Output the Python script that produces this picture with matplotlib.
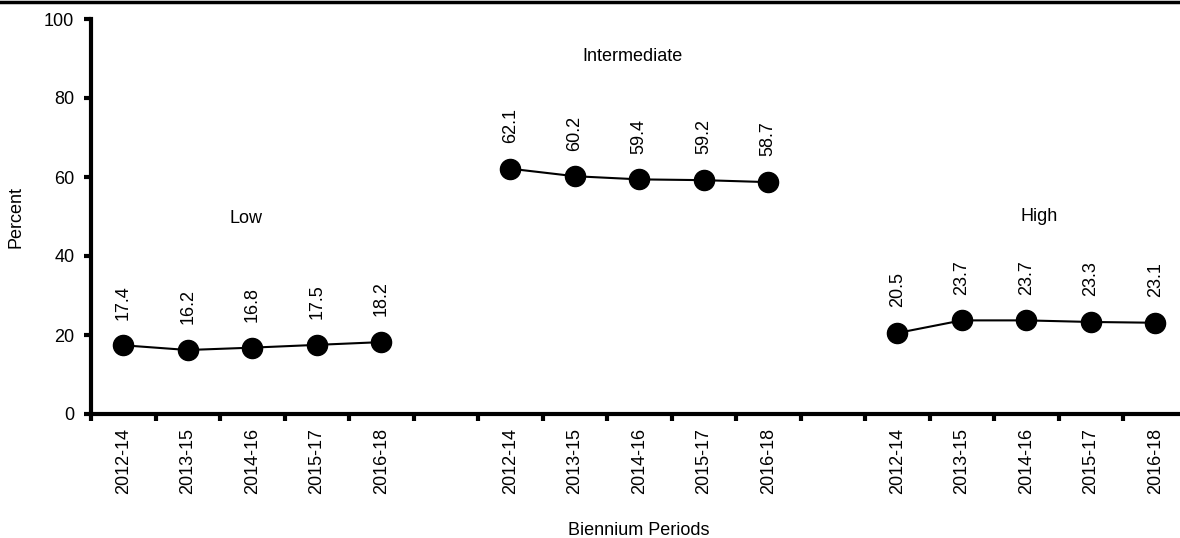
import matplotlib.pyplot as plt
from matplotlib.lines import Line2D

plt.rcParams['font.family'] = ['Liberation Sans', 'DejaVu Sans']

periods = ['2012-14', '2013-15', '2014-16', '2015-17', '2016-18']
groups = ['Low', 'Intermediate', 'High']
low = [17.4, 16.2, 16.8, 17.5, 18.2]
intermediate = [62.1, 60.2, 59.4, 59.2, 58.7]
high = [20.5, 23.7, 23.7, 23.3, 23.1]
series = [low, intermediate, high]

# group label positions (x in category units, y in percent)
label_pos = [(1.9, 49.4), (7.9, 90.6), (14.2, 49.9)]

fs = 13

fig = plt.figure(figsize=(11.8, 5.38), dpi=100)
ax = fig.add_axes([91 / 1180, 124 / 538, 1096.5 / 1180, 395 / 538])

tick_labels = []
centers = []
for g, vals in enumerate(series):
    start = g * 6
    xs = list(range(start, start + 5))
    ax.plot(xs, vals, color='black', lw=1.5, marker='o', ms=14.5,
            clip_on=False, zorder=3)
    for x, v in zip(xs, vals):
        ax.annotate(f'{v:.1f}', (x, v), xytext=(0, 18.5),
                    textcoords='offset points', rotation=90,
                    ha='center', va='bottom', fontsize=fs)
    centers += xs
    tick_labels += periods
    lx, ly = label_pos[g]
    ax.text(lx, ly, groups[g], ha='center', va='center', fontsize=fs)

ax.set_xlim(-0.5, 16.5)
ax.set_ylim(0, 100)
ax.set_xticks([i - 0.5 for i in range(18)])
ax.set_xticklabels([])
ax.set_xticks(centers, minor=True)
ax.set_xticklabels(tick_labels, minor=True, rotation=90, fontsize=fs)
ax.tick_params(axis='x', which='major', direction='out', length=5, width=3)
ax.tick_params(axis='x', which='minor', length=0, pad=10)
ax.set_yticks(range(0, 101, 20))
ax.tick_params(axis='y', direction='out', length=5, width=3, labelsize=fs, pad=7)

for side in ['top', 'right']:
    ax.spines[side].set_visible(False)
for side in ['left', 'bottom']:
    ax.spines[side].set_linewidth(3)

ax.set_xlabel('Biennium Periods', fontsize=fs, labelpad=20)
ax.set_ylabel('Percent', fontsize=fs, labelpad=14)

fig.add_artist(Line2D([0, 1], [0.997, 0.997], color='black', lw=2.5,
                      transform=fig.transFigure))

fig.savefig('out.png', dpi=100)
